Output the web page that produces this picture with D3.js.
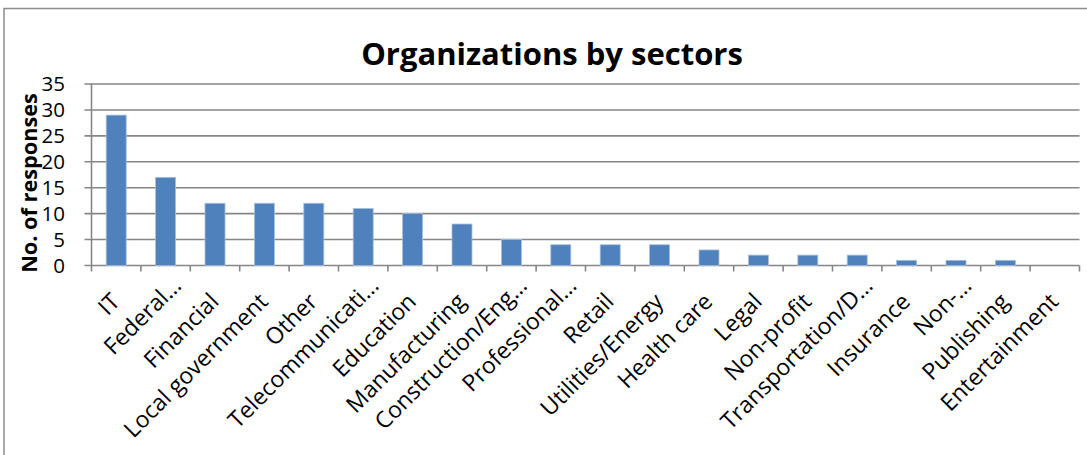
<!DOCTYPE html>
<html>
<head>
<meta charset="utf-8">
<script src="https://cdn.jsdelivr.net/npm/d3@7"></script>
<style>
  html, body { margin: 0; padding: 0; background: #fff; }
  svg { display: block; }
  text { font-family: "Open Sans", Lato, sans-serif; fill: #000; }
</style>
</head>
<body>
<svg id="chart" width="1087" height="455"></svg>
<script>
// Survey responses per sector
const sectors = [
  "IT", "Federal…", "Financial", "Local government", "Other",
  "Telecommunicati…", "Education", "Manufacturing", "Construction/Eng…",
  "Professional…", "Retail", "Utilities/Energy", "Health care", "Legal",
  "Non-profit", "Transportation/D…", "Insurance", "Non-…", "Publishing",
  "Entertainment"
];
const responses = [29, 17, 12, 12, 12, 11, 10, 8, 5, 4, 4, 4, 3, 2, 2, 2, 1, 1, 1, 0];
const yTicks = [0, 5, 10, 15, 20, 25, 30, 35];

const svg = d3.select("#chart");
const plot = { left: 91.5, right: 1079.5, top: 84, bottom: 265.5 };

// Chart frame
svg.append("rect")
  .attr("x", 4).attr("y", 8.5)
  .attr("width", 1100).attr("height", 460)
  .attr("fill", "none").attr("stroke", "#8c8c8c").attr("stroke-width", 1.5);

const x = d3.scaleBand()
  .domain(sectors)
  .range([plot.left, plot.right])
  .paddingInner(0.595).paddingOuter(0.2975);

const y = d3.scaleLinear()
  .domain([0, 35])
  .range([plot.bottom, plot.top]);

// Horizontal gridlines
svg.append("g")
  .selectAll("line")
  .data(yTicks)
  .join("line")
  .attr("x1", plot.left - 7).attr("x2", plot.right)
  .attr("y1", d => y(d)).attr("y2", d => y(d))
  .attr("stroke", "#868686").attr("stroke-width", 1.6);

// Vertical axis line
svg.append("line")
  .attr("x1", plot.left).attr("x2", plot.left)
  .attr("y1", y(35)).attr("y2", y(0) + 6)
  .attr("stroke", "#868686").attr("stroke-width", 1.6);

// Category ticks on the baseline
svg.append("g")
  .selectAll("line")
  .data(sectors)
  .join("line")
  .attr("x1", (d, i) => plot.left + (i + 1) * x.step())
  .attr("x2", (d, i) => plot.left + (i + 1) * x.step())
  .attr("y1", y(0)).attr("y2", y(0) + 6)
  .attr("stroke", "#868686").attr("stroke-width", 1.6);

// Bars
svg.append("g")
  .selectAll("rect")
  .data(sectors)
  .join("rect")
  .attr("x", d => x(d))
  .attr("y", (d, i) => y(responses[i]))
  .attr("width", x.bandwidth())
  .attr("height", (d, i) => y(0) - y(responses[i]))
  .attr("fill", "#4f81bd")
  .attr("stroke", "#a7bfdd").attr("stroke-width", 0.8);

// Y tick labels
svg.append("g")
  .selectAll("text")
  .data(yTicks)
  .join("text")
  .attr("x", 65)
  .attr("y", d => y(d))
  .attr("dy", "0.36em")
  .attr("text-anchor", "end")
  .style("font-size", "20.5px")
  .text(d => d);

// X category labels, rotated 45°; truncated names sit a little higher
svg.append("g")
  .selectAll("text")
  .data(sectors)
  .join("text")
  .attr("text-anchor", "end")
  .attr("transform", d => {
    const cx = x(d) + x.bandwidth() / 2;
    const cut = d.endsWith("…");
    return `translate(${cx + (cut ? 17 : 5)},${cut ? 287 : 303}) rotate(-45)`;
  })
  .style("font-size", "23px")
  .text(d => d);

// Y axis title
svg.append("text")
  .attr("transform", "translate(37,183) rotate(-90)")
  .attr("text-anchor", "middle")
  .style("font-size", "21.7px")
  .style("font-weight", "bold")
  .text("No. of responses");

// Chart title
svg.append("text")
  .attr("x", 552).attr("y", 65)
  .attr("text-anchor", "middle")
  .style("font-size", "31px")
  .style("font-weight", "bold")
  .text("Organizations by sectors");
</script>
</body>
</html>
